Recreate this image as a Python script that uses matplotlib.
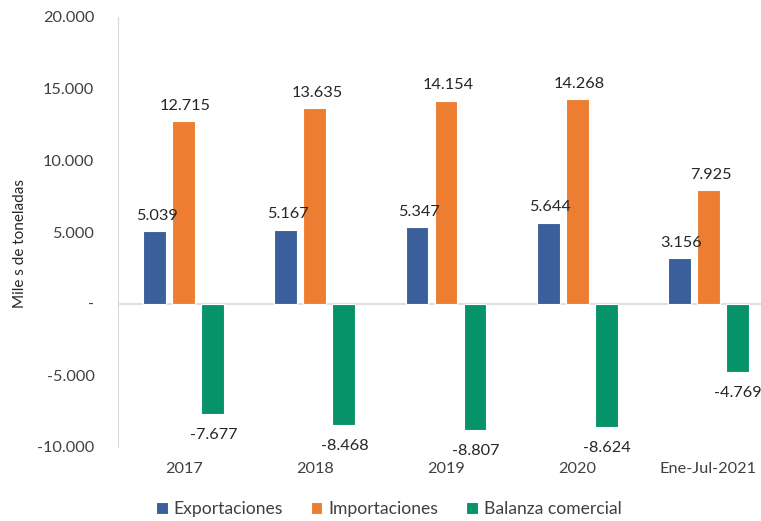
import matplotlib
matplotlib.use("Agg")
import matplotlib.pyplot as plt
import numpy as np

categories = ["2017", "2018", "2019", "2020", "Ene-Jul-2021"]
exportaciones = [5039, 5167, 5347, 5644, 3156]
importaciones = [12715, 13635, 14154, 14268, 7925]
balanza = [-7677, -8468, -8807, -8624, -4769]
series_names = ["Exportaciones", "Importaciones", "Balanza comercial"]
colors = ["#3A5F9B", "#ED7D31", "#07936A"]
yticks = [-10000, -5000, 0, 5000, 10000, 15000, 20000]

plt.rcParams['font.family'] = ['Lato', 'DejaVu Sans']

W, H = 761, 521
fig = plt.figure(figsize=(W/100, H/100), dpi=100)
left, right, top, bottom = 118, 774, 17, 447
ax = fig.add_axes([left/W, (H-bottom)/H, (right-left)/W, (bottom-top)/H])

FS = 11.7
x = np.arange(len(categories))
step = 0.221
width = 0.175
data = [exportaciones, importaciones, balanza]
for i, (vals, c, name) in enumerate(zip(data, colors, series_names)):
    xs = x + (i-1)*step
    ax.bar(xs, vals, width=width, color=c, edgecolor="white", linewidth=0.8, label=name, zorder=3)
    for xi, v in zip(xs, vals):
        lbl = f"{v:,}".replace(",", ".")
        if v >= 0:
            ax.annotate(lbl, (xi, v), xytext=(1.5, 6), textcoords="offset points",
                        ha="center", va="bottom", fontsize=FS, color="#262626", zorder=6)
        else:
            ax.annotate(lbl, (xi, v), xytext=(0.5, -10), textcoords="offset points",
                        ha="center", va="top", fontsize=FS, color="#262626", zorder=6)

ax.set_xlim(-0.5, len(categories)-0.5)
ax.set_ylim(-10000, 20000)
ax.set_yticks(yticks)
ax.set_yticklabels(["-" if t == 0 else f"{t:,}".replace(",", ".") for t in yticks])
ax.set_xticks(x)
ax.set_xticklabels(categories)
ax.tick_params(axis="both", length=0, labelsize=FS, colors="#404040")
ax.tick_params(axis="y", pad=17)
ax.tick_params(axis="x", pad=11)
for s in ["top", "right", "bottom"]:
    ax.spines[s].set_visible(False)
ax.spines["left"].set_color("#D9D9D9")
ax.axhline(0, color="#D9D9D9", linewidth=1.2, zorder=2)
ax.set_ylabel("Mile s de toneladas", fontsize=11, color="#262626")
ax.yaxis.set_label_coords(-(118-27)/656, (447-243)/430)

fig.legend(loc="center", bbox_to_anchor=(389/W, 1-509/H), ncol=3, frameon=False,
           fontsize=12.6, handlelength=0.65, handleheight=0.65, handletextpad=0.35,
           columnspacing=1.6, labelcolor="#404040")

fig.savefig("out.png", dpi=100)
